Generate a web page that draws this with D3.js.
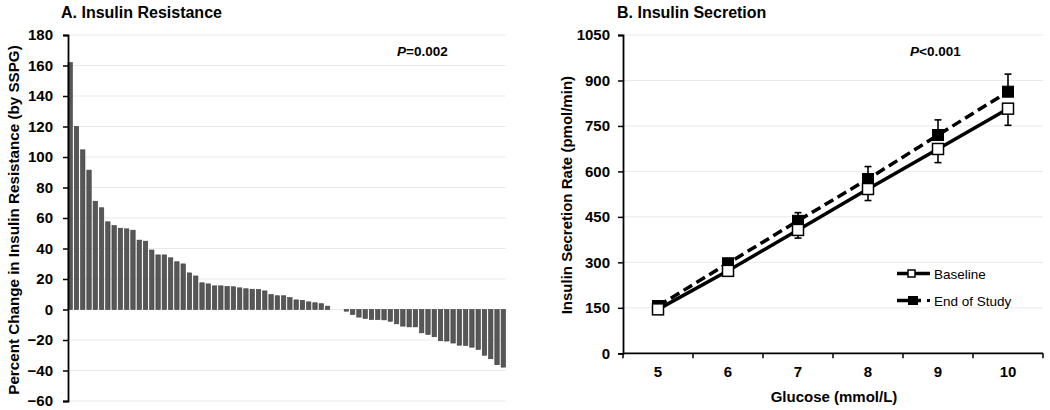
<!DOCTYPE html>
<html>
<head>
<meta charset="utf-8">
<script src="https://cdn.jsdelivr.net/npm/d3@7"></script>
<style>
  html, body { margin: 0; padding: 0; background: #fff; }
  svg { display: block; font-family: Arial, "Liberation Sans", sans-serif; }
</style>
</head>
<body>
<svg id="chart" width="1050" height="410"></svg>
<script>
// ---------- Panel A data ----------
const irValues = [
  162, 120, 104.7, 91.4, 71, 66.7, 57.5, 55, 53.3, 52.9,
  52, 45.5, 44.8, 39, 35.8, 35.8, 33.9, 31.3, 29.9, 24,
  22, 17.5, 16.8, 15.5, 15.5, 15.1, 14.9, 14.2, 13.6, 13.3,
  13.1, 12.2, 9.8, 9, 9, 7.8, 6.3, 6, 5, 4.4,
  3.8, 2.2, 0, 0,
  -1.1, -3.3, -5, -5.9, -6.6, -6.6, -6.8, -7.7, -9.4, -10.9,
  -11.4, -11.4, -15.3, -16.4, -17.9, -20.5, -20.7, -22, -23.4, -23.6,
  -24.7, -26.2, -30, -32.3, -36.2, -37.8
];
const irTicks = [-60, -40, -20, 0, 20, 40, 60, 80, 100, 120, 140, 160, 180];

// ---------- Panel B data ----------
const glucose = ["5", "6", "7", "8", "9", "10"];
const baseline = [145, 272, 407, 542, 674, 807];
const baselineErr = [6, 9, 27, 38, 45, 55];
const endStudy = [156, 297, 437, 575, 720, 863];
const endStudyErr = [6, 10, 27, 41, 50, 58];
const isrTicks = [0, 150, 300, 450, 600, 750, 900, 1050];

const svg = d3.select("#chart");
const gridColor = "#e9e9e9";
const FONT = "Arial, 'Liberation Sans', sans-serif";

// ================= Panel A =================
(function () {
  const left = 68, right = 505.5, top = 35, bottom = 401;
  const y = d3.scaleLinear().domain([-60, 180]).range([bottom, top]);
  const x = d3.scaleBand().domain(d3.range(irValues.length)).range([left, right])
    .paddingInner(0.3).paddingOuter(0);
  const g = svg.append("g");

  g.append("g").selectAll("line").data(irTicks).join("line")
    .attr("x1", left).attr("x2", right)
    .attr("y1", d => y(d)).attr("y2", d => y(d))
    .attr("stroke", gridColor).attr("stroke-width", 1);

  g.append("g").selectAll("rect").data(irValues).join("rect")
    .attr("x", (d, i) => x(i))
    .attr("width", x.bandwidth())
    .attr("y", d => y(Math.max(0, d)))
    .attr("height", d => Math.abs(y(d) - y(0)))
    .attr("fill", "#575757")
    .attr("stroke", "#3c3c3c").attr("stroke-width", 0.6);

  const ax = g.append("g").attr("transform", `translate(${left},0)`)
    .call(d3.axisLeft(y).tickValues(irTicks).tickSize(5).tickPadding(10).tickFormat(d3.format("d")));
  ax.select(".domain").attr("stroke", "#000").attr("stroke-width", 1.8);
  ax.selectAll(".tick line").attr("stroke", "#000").attr("stroke-width", 1.5);
  ax.selectAll(".tick text").attr("font-size", 15).attr("font-weight", "bold")
    .attr("fill", "#000").attr("font-family", FONT);

  g.append("text").attr("x", 61).attr("y", 18)
    .attr("font-size", 16).attr("font-weight", "bold").text("A. Insulin Resistance");

  g.append("text").attr("transform", `translate(19,${(top + bottom) / 2 + 2}) rotate(-90)`)
    .attr("text-anchor", "middle").attr("font-size", 15.2).attr("font-weight", "bold")
    .text("Percent Change in Insulin Resistance (by SSPG)");

  const p = g.append("text").attr("x", 397).attr("y", 56)
    .attr("font-size", 13.5).attr("font-weight", "bold");
  p.append("tspan").attr("font-style", "italic").text("P");
  p.append("tspan").text("=0.002");
})();

// ================= Panel B =================
(function () {
  const left = 623, right = 1043, top = 35, bottom = 353.3;
  const y = d3.scaleLinear().domain([0, 1050]).range([bottom, top]);
  const x = d3.scaleBand().domain(glucose).range([left, right]).padding(0);
  const cx = d => x(d) + x.bandwidth() / 2;
  const g = svg.append("g");

  g.append("g").selectAll("line").data(isrTicks.filter(d => d > 0)).join("line")
    .attr("x1", left).attr("x2", right)
    .attr("y1", d => y(d)).attr("y2", d => y(d))
    .attr("stroke", gridColor).attr("stroke-width", 1);

  const ay = g.append("g").attr("transform", `translate(${left},0)`)
    .call(d3.axisLeft(y).tickValues(isrTicks).tickSize(5).tickPadding(8).tickFormat(d3.format("d")));
  ay.select(".domain").attr("stroke", "#000").attr("stroke-width", 1.8);
  ay.selectAll(".tick line").attr("stroke", "#000").attr("stroke-width", 1.5);
  ay.selectAll(".tick text").attr("font-size", 15).attr("font-weight", "bold")
    .attr("fill", "#000").attr("font-family", FONT);

  const ax = g.append("g").attr("transform", `translate(0,${bottom})`);
  ax.append("line").attr("x1", left).attr("x2", right).attr("y1", 0).attr("y2", 0)
    .attr("stroke", "#000").attr("stroke-width", 1.8);
  const bounds = glucose.map(d => x(d)).concat([right]);
  ax.selectAll("line.tk").data(bounds).join("line").attr("class", "tk")
    .attr("x1", d => d).attr("x2", d => d).attr("y1", 0).attr("y2", 5)
    .attr("stroke", "#000").attr("stroke-width", 1.5);
  ax.selectAll("text").data(glucose).join("text")
    .attr("x", d => cx(d)).attr("y", 24).attr("text-anchor", "middle")
    .attr("font-size", 15).attr("font-weight", "bold").text(d => d);

  const lineGen = d3.line().x((d, i) => cx(glucose[i])).y(d => y(d));
  g.append("path").datum(baseline).attr("d", lineGen)
    .attr("fill", "none").attr("stroke", "#000").attr("stroke-width", 3.5);
  g.append("path").datum(endStudy).attr("d", lineGen)
    .attr("fill", "none").attr("stroke", "#000").attr("stroke-width", 3.5)
    .attr("stroke-dasharray", "10,5");

  const cap = 3.5;
  const eb = g.append("g").attr("stroke", "#000").attr("stroke-width", 1.6);
  baseline.forEach((v, i) => {
    const xx = cx(glucose[i]);
    eb.append("line").attr("x1", xx).attr("x2", xx).attr("y1", y(v)).attr("y2", y(v - baselineErr[i]));
    eb.append("line").attr("x1", xx - cap).attr("x2", xx + cap).attr("y1", y(v - baselineErr[i])).attr("y2", y(v - baselineErr[i]));
  });
  endStudy.forEach((v, i) => {
    const xx = cx(glucose[i]);
    eb.append("line").attr("x1", xx).attr("x2", xx).attr("y1", y(v)).attr("y2", y(v + endStudyErr[i]));
    eb.append("line").attr("x1", xx - cap).attr("x2", xx + cap).attr("y1", y(v + endStudyErr[i])).attr("y2", y(v + endStudyErr[i]));
  });

  const ms = 11;
  g.append("g").selectAll("rect").data(endStudy).join("rect")
    .attr("x", (d, i) => cx(glucose[i]) - ms / 2).attr("y", d => y(d) - ms / 2)
    .attr("width", ms).attr("height", ms).attr("fill", "#000").attr("stroke", "#000").attr("stroke-width", 1);
  g.append("g").selectAll("rect").data(baseline).join("rect")
    .attr("x", (d, i) => cx(glucose[i]) - ms / 2).attr("y", d => y(d) - ms / 2)
    .attr("width", ms).attr("height", ms).attr("fill", "#fff").attr("stroke", "#000").attr("stroke-width", 1.5);

  g.append("text").attr("x", 617).attr("y", 18)
    .attr("font-size", 16).attr("font-weight", "bold").text("B. Insulin Secretion");

  g.append("text").attr("transform", `translate(572,${(top + bottom) / 2 + 1}) rotate(-90)`)
    .attr("text-anchor", "middle").attr("font-size", 15).attr("font-weight", "bold")
    .text("Insulin Secretion Rate (pmol/min)");

  g.append("text").attr("x", (left + right) / 2 + 1).attr("y", 402)
    .attr("text-anchor", "middle").attr("font-size", 15).attr("font-weight", "bold")
    .text("Glucose (mmol/L)");

  const p = g.append("text").attr("x", 910).attr("y", 56)
    .attr("font-size", 13.5).attr("font-weight", "bold");
  p.append("tspan").attr("font-style", "italic").text("P");
  p.append("tspan").text("<0.001");

  const lg = g.append("g");
  const ly1 = 273.5, ly2 = 300.5, lx = 897;
  lg.append("line").attr("x1", lx).attr("x2", lx + 33).attr("y1", ly1).attr("y2", ly1)
    .attr("stroke", "#000").attr("stroke-width", 3.5);
  lg.append("rect").attr("x", lx + 11).attr("y", ly1 - 3.5).attr("width", 7).attr("height", 7)
    .attr("fill", "#fff").attr("stroke", "#000").attr("stroke-width", 1.5);
  lg.append("text").attr("x", lx + 37).attr("y", ly1 + 5).attr("font-size", 13.5).text("Baseline");

  lg.append("line").attr("x1", lx).attr("x2", lx + 24).attr("y1", ly2).attr("y2", ly2)
    .attr("stroke", "#000").attr("stroke-width", 3.5);
  lg.append("rect").attr("x", lx + 11).attr("y", ly2 - 4.5).attr("width", 10).attr("height", 9)
    .attr("fill", "#000");
  lg.append("line").attr("x1", lx + 30).attr("x2", lx + 33).attr("y1", ly2).attr("y2", ly2)
    .attr("stroke", "#000").attr("stroke-width", 3);
  lg.append("text").attr("x", lx + 37).attr("y", ly2 + 5).attr("font-size", 13.5).text("End of Study");
})();
</script>
</body>
</html>
